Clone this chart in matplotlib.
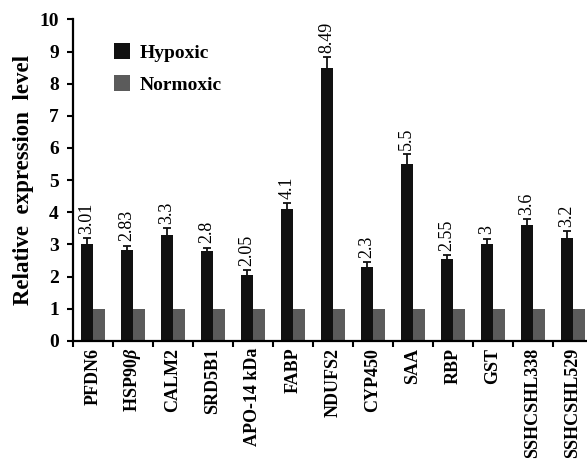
import numpy as np
import matplotlib
matplotlib.use('Agg')
import matplotlib.pyplot as plt

plt.rcParams['font.family'] = 'Liberation Serif'
plt.rcParams['mathtext.fontset'] = 'custom'
plt.rcParams['mathtext.rm'] = 'Liberation Serif:bold'
plt.rcParams['mathtext.it'] = 'Liberation Serif:italic:bold'

genes = ['PFDN6', r'HSP90$\beta$', 'CALM2', 'SRD5B1', 'APO-14 kDa', 'FABP', 'NDUFS2',
         'CYP450', 'SAA', 'RBP', 'GST', 'SSHCSHL338', 'SSHCSHL529']
hypoxic = [3.01, 2.83, 3.3, 2.8, 2.05, 4.1, 8.49, 2.3, 5.5, 2.55, 3.0, 3.6, 3.2]
hypoxic_err = [0.19, 0.13, 0.2, 0.1, 0.16, 0.18, 0.34, 0.15, 0.3, 0.11, 0.18, 0.18, 0.21]
hypoxic_labels = ['3.01', '2.83', '3.3', '2.8', '2.05', '4.1', '8.49', '2.3', '5.5', '2.55', '3', '3.6', '3.2']
normoxic = [1] * 13

x = np.arange(len(genes))
w = 0.3

fig = plt.figure(figsize=(5.87, 4.63), dpi=100)
ax = fig.add_axes([0.124, 0.264, 0.886, 0.694])

ax.bar(x - w / 2, hypoxic, w, color='#111111', label='Hypoxic',
       yerr=hypoxic_err, error_kw=dict(ecolor='#111111', elinewidth=1.3, capsize=3, capthick=1.3))
ax.bar(x + w / 2, normoxic, w, color='#5b5b5b', label='Normoxic')

# value labels above the hypoxic bars
for xi, v, e, s in zip(x, hypoxic, hypoxic_err, hypoxic_labels):
    ax.annotate(s, (xi - w / 2, v + e), xytext=(0, 3), textcoords='offset points',
                rotation=90, ha='center', va='bottom', fontsize=13)

ax.set_xlim(-0.5, len(genes) - 0.5)
ax.set_ylim(0, 10)
ax.set_yticks(range(0, 11))
ax.set_yticklabels([str(i) for i in range(0, 11)], fontsize=14, fontweight='bold')
ax.set_xticks(x)
ax.set_xticklabels(genes, rotation=90, fontsize=13, fontweight='bold')
ax.set_xticks(np.arange(-0.5, len(genes), 1), minor=True)
ax.tick_params(axis='x', which='major', length=0, pad=5)
ax.tick_params(axis='x', which='minor', length=4, width=1.5, direction='out')
ax.tick_params(axis='y', length=4, width=1.5, direction='out', pad=6)

ax.set_ylabel('Relative  expression  level', fontsize=16.5, fontweight='bold', labelpad=4)

for side in ['top', 'right']:
    ax.spines[side].set_visible(False)
for side in ['left', 'bottom']:
    ax.spines[side].set_linewidth(1.6)

leg = ax.legend(loc='upper left', bbox_to_anchor=(0.045, 0.98), frameon=False,
                prop={'weight': 'bold', 'size': 14}, handlelength=0.85, handleheight=0.85,
                handletextpad=0.5, labelspacing=0.7)

fig.savefig('out.png', dpi=100)
